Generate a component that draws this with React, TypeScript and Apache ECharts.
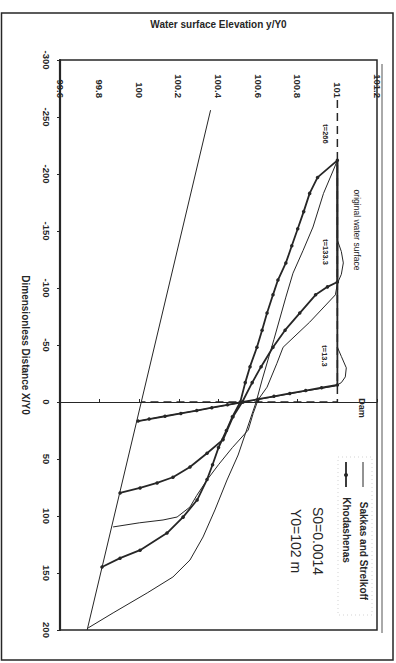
import React, { useEffect, useRef } from "react";
import * as echarts from "echarts";

// Each pair: [X/Y0 (dimensionless distance), y/Y0 (water surface elevation)]
const bedLine = [[-256, 100.36], [200, 99.737]];
const originalSurface = [[-265, 101.0], [0, 101.0], [0, 100.011]];

const sakkasT266 = [
  [-212, 101.0], [-203.5, 100.98], [-183, 100.93], [-153.5, 100.877], [-133, 100.827],
  [-113, 100.776], [-92, 100.74], [-55, 100.68], [-19.3, 100.62], [0, 100.59],
  [15.8, 100.559], [46.5, 100.499], [68.4, 100.443], [94.7, 100.382], [118.4, 100.322],
  [138.6, 100.256], [153.5, 100.17], [167.5, 100.04], [185, 99.868], [198.2, 99.742],
];
const sakkasT133 = [
  [-212, 101.0], [-142, 101.0], [-132, 101.02], [-122, 101.03], [-112, 101.02],
  [-104, 101.0], [-94, 100.99], [-70, 100.86], [-48, 100.726], [-34, 100.695],
  [-13, 100.645], [-2, 100.6], [10, 100.575], [24.6, 100.55], [40, 100.47],
  [55, 100.4], [68.4, 100.342], [82, 100.29], [92.1, 100.256], [100.9, 100.191],
  [103.5, 100.12], [106, 100.0], [109.6, 99.868],
];
const sakkasT13 = [
  [-212, 101.0], [-48, 101.0], [-40, 101.02], [-30, 101.045], [-22, 101.04],
  [-17, 101.02], [-14, 100.99], [-10, 100.85], [-5, 100.69], [0, 100.53],
  [5, 100.37], [10, 100.21], [14, 100.08], [17, 99.99],
];

const khodT266 = [
  [-212, 101.0], [-197, 100.9], [-183, 100.86], [-167, 100.83], [-152, 100.8],
  [-137, 100.77], [-122, 100.74], [-107, 100.7], [-94, 100.675], [-78, 100.645],
  [-63, 100.62], [-48, 100.594], [-31, 100.559], [-17, 100.535], [0, 100.51],
  [13, 100.47], [25, 100.44], [40, 100.4], [55, 100.37], [68, 100.342],
  [86, 100.292], [101, 100.221], [115, 100.14], [130, 100.004], [137, 99.903],
  [144.7, 99.812],
];
const khodT133 = [
  [-212, 101.0], [-105.3, 101.0], [-101, 100.95], [-94, 100.89], [-78, 100.81],
  [-63, 100.736], [-48, 100.675], [-31, 100.615], [-17, 100.57], [0, 100.52],
  [13, 100.473], [33, 100.423], [45, 100.342], [57, 100.256], [66, 100.17],
  [71, 100.09], [75.4, 100.004], [79.8, 99.903],
];
const khodT13 = [
  [-212, 101.0], [-15, 101.0], [-12.5, 100.92], [-10, 100.84], [-7.5, 100.76],
  [-5, 100.68], [-2.5, 100.6], [0, 100.524], [2.5, 100.445], [5, 100.366],
  [7.5, 100.29], [10, 100.21], [12.5, 100.13], [15, 100.05], [16.7, 99.994],
];

const elevationMin = 99.6;
const elevationMax = 101.2;
const elevationStep = 0.2;
const distanceMin = -300;
const distanceMax = 200;
const distanceStep = 50;

const timeLabels = ["t=266", "t=133.3", "t=13.3"];
const legendNames = ["Sakkas and Strelkoff", "Khodashenas"];

const INK = "#262626";
const FONT = "'Liberation Sans', Arial, sans-serif";

const toPts = (arr: number[][]) => arr.map(([x, e]) => [e, x]);
const toMarked = (arr: number[][], hideFirst: boolean) =>
  arr.map(([x, e], i) =>
    i === 0 && hideFirst ? { value: [e, x], symbol: "none" } : { value: [e, x] }
  );

const vText = (text: string, x: number, y: number, size: number, weight = "bold") => ({
  type: "text",
  x,
  y,
  rotation: -Math.PI / 2,
  style: {
    text,
    fill: INK,
    font: `${weight} ${size}px ${FONT}`,
    align: "center",
    verticalAlign: "middle",
    textAlign: "center",
    textVerticalAlign: "middle",
  },
});

export default function App() {
  const ref = useRef<HTMLDivElement>(null);
  useEffect(() => {
    if (!ref.current) return;
    const chart = echarts.init(ref.current, undefined, { renderer: "svg" });

    const plain = (name: string, data: number[][]) => ({
      type: "line",
      name,
      data: toPts(data),
      symbol: "none",
      lineStyle: { color: INK, width: 1 },
      z: 3,
    });
    const marked = (name: string, data: number[][], hideFirst: boolean) => ({
      type: "line",
      name,
      data: toMarked(data, hideFirst),
      symbol: "circle",
      symbolSize: 3.5,
      showAllSymbol: true,
      itemStyle: { color: INK },
      lineStyle: { color: INK, width: 1.8 },
      z: 4,
    });

    chart.setOption({
      animation: false,
      backgroundColor: "#ffffff",
      grid: {
        left: 60,
        top: 60,
        width: 317,
        height: 570,
        show: true,
        borderColor: INK,
        borderWidth: 1.5,
        backgroundColor: "transparent",
      },
      xAxis: {
        type: "value",
        position: "top",
        offset: -46,
        min: elevationMin,
        max: elevationMax,
        interval: elevationStep,
        name: "Water surface Elevation y/Y0",
        nameLocation: "middle",
        nameGap: 77,
        nameTextStyle: { color: INK, fontSize: 10, fontWeight: "bold", fontFamily: FONT },
        axisLine: { show: true, lineStyle: { color: INK, width: 1.2 } },
        axisTick: { show: true, length: 3, lineStyle: { color: INK } },
        axisLabel: {
          rotate: -90,
          margin: 8,
          color: INK,
          fontSize: 9.5,
          fontWeight: "bold",
          fontFamily: FONT,
        },
        splitLine: { show: false },
      },
      yAxis: {
        type: "value",
        inverse: true,
        min: distanceMin,
        max: distanceMax,
        interval: distanceStep,
        name: "Dimensionless Distance X/Y0",
        nameLocation: "middle",
        nameRotate: -90,
        nameGap: 30,
        nameTextStyle: { color: INK, fontSize: 10, fontWeight: "bold", fontFamily: FONT },
        axisLine: { show: true, lineStyle: { color: INK, width: 2.2 } },
        axisTick: { show: true, length: 3, lineStyle: { color: INK } },
        axisLabel: {
          rotate: -90,
          margin: 9,
          color: INK,
          fontSize: 9.5,
          fontWeight: "bold",
          fontFamily: FONT,
        },
        splitLine: { show: false },
      },
      series: [
        plain("bed", bedLine),
        {
          type: "line",
          name: "original",
          data: toPts(originalSurface),
          symbol: "none",
          lineStyle: { color: INK, width: 1.5, type: [8, 5] },
          z: 2,
        },
        plain(legendNames[0] + " 266", sakkasT266),
        plain(legendNames[0] + " 133", sakkasT133),
        plain(legendNames[0] + " 13", sakkasT13),
        marked(legendNames[1] + " 266", khodT266, false),
        marked(legendNames[1] + " 133", khodT133, true),
        marked(legendNames[1] + " 13", khodT13, true),
      ],
      graphic: [
        {
          type: "rect",
          shape: { x: 1.5, y: 13, width: 391.5, height: 647 },
          style: { fill: "none", stroke: INK, lineWidth: 1.5 },
          silent: true,
        },
        {
          type: "line",
          shape: { x1: 382, y1: 64, x2: 382, y2: 633 },
          style: { stroke: "#555", lineWidth: 1 },
          silent: true,
        },
        {
          type: "rect",
          shape: { x: 338, y: 457, width: 34, height: 158 },
          style: { fill: "none", stroke: "#c8c8c8", lineWidth: 0.8, lineDash: [1, 3] },
          silent: true,
        },
        vText(timeLabels[0], 325, 134, 7.5),
        vText(timeLabels[1], 325, 252, 7.5),
        vText(timeLabels[2], 324, 356, 7.5),
        vText("original water surface", 357, 230, 8.5, "normal"),
        vText("Dam", 362, 408, 9),
        {
          type: "line",
          shape: { x1: 363, y1: 462, x2: 363, y2: 487 },
          style: { stroke: INK, lineWidth: 1 },
        },
        vText(legendNames[0], 363, 551, 10),
        {
          type: "line",
          shape: { x1: 346, y1: 462, x2: 346, y2: 487 },
          style: { stroke: INK, lineWidth: 1.8 },
        },
        {
          type: "circle",
          shape: { cx: 346, cy: 475, r: 2 },
          style: { fill: INK },
        },
        vText(legendNames[1], 346, 530, 10),
        vText("S0=0.0014", 318, 541, 14, "normal"),
        vText("Y0=102 m", 296, 541, 14, "normal"),
      ],
    });
    return () => chart.dispose();
  }, []);
  return (
    <div
      ref={ref}
      style={{ position: "fixed", left: 0, top: 0, width: 396, height: 663, background: "#fff" }}
    />
  );
}
